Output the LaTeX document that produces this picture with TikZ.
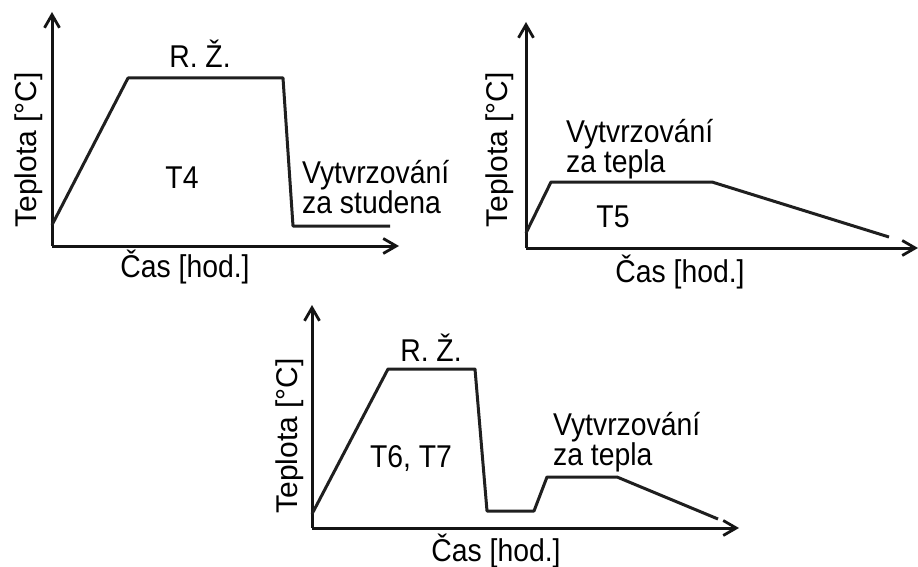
\documentclass[tikz,border=0pt]{standalone}
\usepackage{fontspec}
\setmainfont{Liberation Sans}
\usetikzlibrary{arrows.meta}
\begin{document}
\begin{tikzpicture}[x=1pt,y=-1pt,
  axis/.style={line width=3pt,color=black!92,-{Straight Barb[length=13pt,width=15pt,line width=2.8pt]}},
  curve/.style={line width=3pt,line join=round,color=black!88},
  lbl/.style={inner sep=0pt,anchor=base,xscale=0.9,font=\fontsize{31.5}{36}\selectfont},
  twoline/.style={lbl,anchor=base west,align=left,font=\fontsize{31.5}{29.5}\selectfont},
  ylbl/.style={inner sep=0pt,anchor=base,rotate=90,font=\fontsize{30}{34}\selectfont}]
\useasboundingbox (0,0) rectangle (918,567);

% ---- T4: solution annealing, then natural ageing ----
% (two-line labels are placed by the baseline of their last line)
\coordinate (o1) at (52,246);
\coordinate (y1) at (52,12);
\coordinate (x1) at (399,246);
\draw[axis] (o1) -- (y1);
\draw[axis] (o1) -- (x1);
\draw[curve] (52,225) -- (128,78) -- (283,78) -- (293,226) -- (390,226);
\node[lbl] (rz1) at (200,68) {R. Ž.};
\node[lbl] (t4) at (182,188) {T4};
\node[twoline] (v1) at (302,213) {Vytvrzování\\za studena};
\node[ylbl] (tp1) at (36,150) {Teplota [°C]};
\node[lbl] (cas1) at (185,277) {Čas [hod.]};

% ---- T5: artificial ageing only ----
\coordinate (o2) at (526,248);
\coordinate (y2) at (526,22);
\coordinate (x2) at (918,248);
\draw[axis] (o2) -- (y2);
\draw[axis] (o2) -- (x2);
\draw[curve] (526,233) -- (551,182) -- (712,182) -- (889,237);
\node[twoline] (v2) at (566,172) {Vytvrzování\\za tepla};
\node[lbl] (t5) at (613,227) {T5};
\node[ylbl] (tp2) at (507,150) {Teplota [°C]};
\node[lbl] (cas2) at (680,282) {Čas [hod.]};

% ---- T6, T7: solution annealing, quench, artificial ageing ----
\coordinate (o3) at (312,528);
\coordinate (y3) at (312,305);
\coordinate (x3) at (739,528);
\draw[axis] (o3) -- (y3);
\draw[axis] (o3) -- (x3);
\draw[curve] (312,514) -- (388,369) -- (475,369) -- (487,511) -- (534,511)
  -- (547,477) -- (617,477) -- (718,519);
\node[lbl] (rz3) at (431,361) {R. Ž.};
\node[lbl] (t67) at (411,467) {T6, T7};
\node[twoline] (v3) at (553,465) {Vytvrzování\\za tepla};
\node[ylbl] (tp3) at (297,436) {Teplota [°C]};
\node[lbl] (cas3) at (496,561) {Čas [hod.]};
\end{tikzpicture}
\end{document}
